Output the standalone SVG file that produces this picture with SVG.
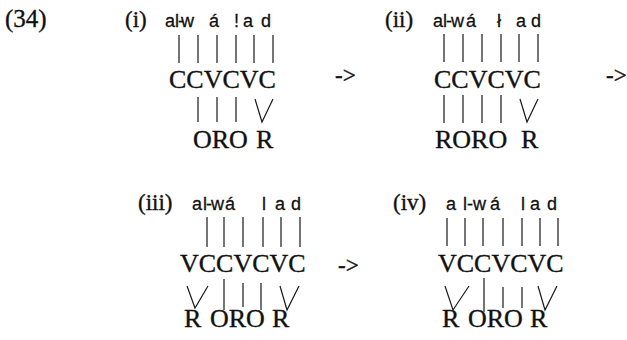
<svg xmlns="http://www.w3.org/2000/svg" width="627" height="340" viewBox="0 0 627 340">
<style>
.s{font-family:"Liberation Serif","Times New Roman",serif;fill:#111;stroke:#111;stroke-width:0.35}
.lab{font-size:23px}
.big{font-size:26px}
.t{font-family:"Liberation Sans",Arial,sans-serif;font-size:18px;fill:#111;stroke:#111;stroke-width:0.3}
.ln{stroke:#1a1a1a;stroke-width:1.2;fill:none}
</style>
<rect width="627" height="340" fill="#fff"/>
<text id="ex-num" class="s" x="5" y="27" style="font-size:25px">(34)</text>

<g id="panel-i">
<text class="s lab" x="125" y="27">(i)</text>
<text class="t" y="27" x="165 175 178 181 209 234 243 261">al-wá!ad</text>
<text class="s big" x="169" y="88">CCVCVC</text>
<text class="s big" y="148"><tspan x="193">ORO</tspan><tspan x="256">R</tspan></text>
</g>

<g id="panel-ii">
<text class="s lab" x="385" y="27">(ii)</text>
<text class="t" y="27" x="433 443 446 451 466 497 516 531">al-wáład</text>
<text class="s big" x="434" y="88">CCVCVC</text>
<text class="s big" y="148"><tspan x="435">RORO</tspan><tspan x="521">R</tspan></text>
</g>

<g id="panel-iii">
<text class="s lab" x="138" y="210">(iii)</text>
<text class="t" y="210" x="192 203 206 211 225 262 275 291">al-wálad</text>
<text class="s big" x="180" y="272">VCCVCVC</text>
<text class="s big" y="327"><tspan x="184">R</tspan><tspan x="210">ORO</tspan><tspan x="272">R</tspan></text>
</g>

<g id="panel-iv">
<text class="s lab" x="393" y="210">(iv)</text>
<text class="t" y="210" x="446 463 467 473 490 521 530 547">al-wálad</text>
<text class="s big" x="438" y="272">VCCVCVC</text>
<text class="s big" y="327"><tspan x="442">R</tspan><tspan x="468">ORO</tspan><tspan x="530">R</tspan></text>
</g>

<g id="arrows">
<text class="s lab" x="335" y="83">-&gt;</text>
<text class="s lab" x="606" y="83">-&gt;</text>
<text class="s lab" x="338" y="273">-&gt;</text>
</g>

<g id="connectors" class="ln">
<path d="M179 35V63M198 35V63M217 35V63M236 35V63M254 35V63M273 35V63"/>
<path d="M198 97V122M217 97V122M236 97V122M255 99L262 122L273 99"/>
<path d="M444 34V62M463 34V62M482 34V62M501 34V62M519 34V62M538 34V62"/>
<path d="M444 95V123M463 95V123M482 95V123M501 95V123M520 99L527 122L538 99"/>
<path d="M207 217V247M224 217V247M243 217V247M263 217V247M281 217V247M300 217V247"/>
<path d="M187 286L195 308L208 286M224 279V310M243 283V307M261 283V310M280 286L287 310L299 286"/>
<path d="M447 218V246M465 218V246M483 218V246M503 218V246M522 218V246M540 218V246M558 218V246"/>
<path d="M445 286L453 310L469 286M484 278V312M503 287V308M522 287V308M538 286L545 310L557 286"/>
</g>
</svg>
